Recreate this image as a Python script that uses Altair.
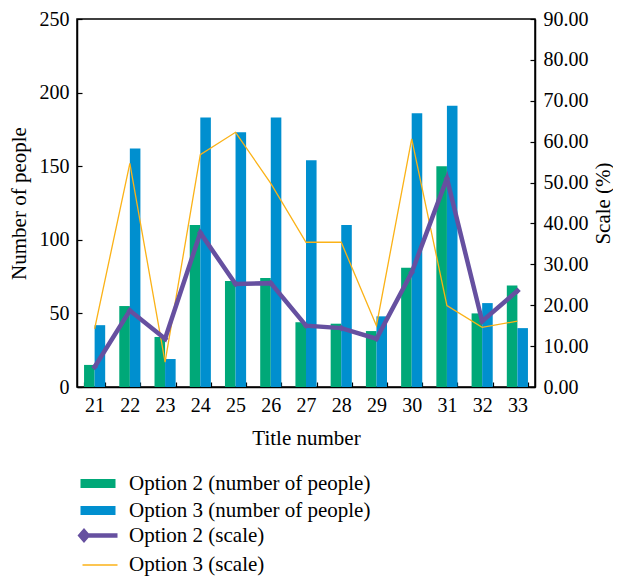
import altair as alt
import pandas as pd

titles = [21, 22, 23, 24, 25, 26, 27, 28, 29, 30, 31, 32, 33]
opt2_people = [15, 55, 34, 110, 72, 74, 44, 43, 38, 81, 150, 50, 69]
opt3_people = [42, 162, 19, 183, 173, 183, 154, 110, 48, 186, 191, 57, 40]
opt2_scale = [4.9, 18.7, 11.8, 37.7, 25.2, 25.4, 15.0, 14.4, 11.8, 28.0, 51.0, 16.1, 23.5]
opt3_scale = [14.2, 54.7, 6.1, 56.8, 62.3, 49.8, 35.4, 35.4, 15.0, 60.7, 19.9, 14.6, 16.1]

bar_names = ["Option 2 (number of people)", "Option 3 (number of people)"]
line_names = ["Option 2 (scale)", "Option 3 (scale)"]
bar_colors = ["#00a878", "#008fcf"]
line_colors = ["#6650a0", "#fbb217"]

FONT = "Liberation Serif"
LFS = 20   # tick labels
TFS = 21   # titles and legend

people = pd.DataFrame({
    "Title": titles * 2,
    "Series": [bar_names[0]] * len(titles) + [bar_names[1]] * len(titles),
    "Value": opt2_people + opt3_people,
})
scale_df = pd.DataFrame({
    "Title": titles * 2,
    "Series": [line_names[1]] * len(titles) + [line_names[0]] * len(titles),
    "Value": opt3_scale + opt2_scale,
})
opt2_df = pd.DataFrame({"Title": titles, "Value": opt2_scale})

x_enc = alt.X(
    "Title:O",
    scale=alt.Scale(paddingInner=0.4, paddingOuter=0.2),
    axis=alt.Axis(
        title="Title number", labelAngle=0, tickBand="extent",
        tickSize={"expr": "-5"}, labelPadding=13, titlePadding=12,
    ),
)

bars = alt.Chart(people).mark_bar().encode(
    x=x_enc,
    xOffset=alt.XOffset("Series:N", sort=bar_names),
    y=alt.Y(
        "Value:Q",
        scale=alt.Scale(domain=[0, 250], nice=False),
        axis=alt.Axis(
            title="Number of people", values=[0, 50, 100, 150, 200, 250],
            tickSize={"expr": "-5"}, labelPadding=13, titlePadding=10,
        ),
    ),
    color=alt.Color(
        "Series:N",
        scale=alt.Scale(domain=bar_names, range=bar_colors),
        legend=alt.Legend(
            title=None, orient="none", legendX=10.5, legendY=454,
            symbolType="M-1.75,-0.45H1.75V0.45H-1.75Z", symbolSize=400,
            symbolStrokeWidth=0, labelOffset=20.5, rowPadding=5,
            padding=0, labelLimit=0,
        ),
    ),
)

y_right = alt.Y(
    "Value:Q",
    scale=alt.Scale(domain=[0, 90], nice=False),
    axis=alt.Axis(
        title="Scale (%)", orient="right", format=".2f",
        values=[0, 10, 20, 30, 40, 50, 60, 70, 80, 90],
        tickSize={"expr": "-5"}, labelPadding=13, titlePadding=25,
        titleAngle=270,
    ),
)

sym_expr = ("datum.value == 'Option 2 (scale)' ? "
            "'M-1.95,0L-1.6,-0.4L-1.25,0L-1.6,0.4Z M-1.4,0H1.75' : 'M-1.75,0H1.75'")
sw_expr = "datum.value == 'Option 2 (scale)' ? 4 : 1.3"
fill_expr = "datum.value == 'Option 2 (scale)' ? '#6650a0' : 'transparent'"

lines = alt.Chart(scale_df).mark_line(strokeJoin="miter").encode(
    x=alt.X("Title:O"),
    y=y_right,
    stroke=alt.Stroke(
        "Series:N",
        scale=alt.Scale(domain=line_names, range=line_colors),
        legend=alt.Legend(
            title=None, orient="none", legendX=10.5, legendY=504,
            symbolType={"expr": sym_expr}, symbolSize=400,
            symbolStrokeWidth={"expr": sw_expr},
            symbolFillColor={"expr": fill_expr},
            labelOffset=16.5, rowPadding=5, padding=0, labelLimit=0,
        ),
    ),
    strokeWidth=alt.StrokeWidth(
        "Series:N",
        scale=alt.Scale(domain=line_names, range=[4.5, 1.3]),
        legend=None,
    ),
)

points = alt.Chart(opt2_df).mark_point(
    shape="diamond", filled=True, size=45, color=line_colors[0], opacity=1
).encode(
    x=alt.X("Title:O"),
    y=alt.Y("Value:Q"),
)

chart = alt.layer(bars, alt.layer(lines, points)).resolve_scale(
    y="independent"
).properties(
    width=458, height=368,
    autosize=alt.AutoSizeParams(type="none"),
    padding={"left": 69, "top": 11, "right": 78, "bottom": 191},
).configure_view(
    stroke="black", strokeWidth=1.5
).configure_axis(
    labelFont=FONT, titleFont=FONT, labelFontSize=LFS, titleFontSize=TFS,
    labelColor="black", titleColor="black", titleFontWeight="normal",
    domainColor="black", tickColor="black", domainWidth=1.5, tickWidth=1.2,
    grid=False,
).configure_legend(
    labelFont=FONT, labelFontSize=TFS, labelColor="black",
)

chart.save("out.html", embed_options={"renderer": "svg", "actions": False})
